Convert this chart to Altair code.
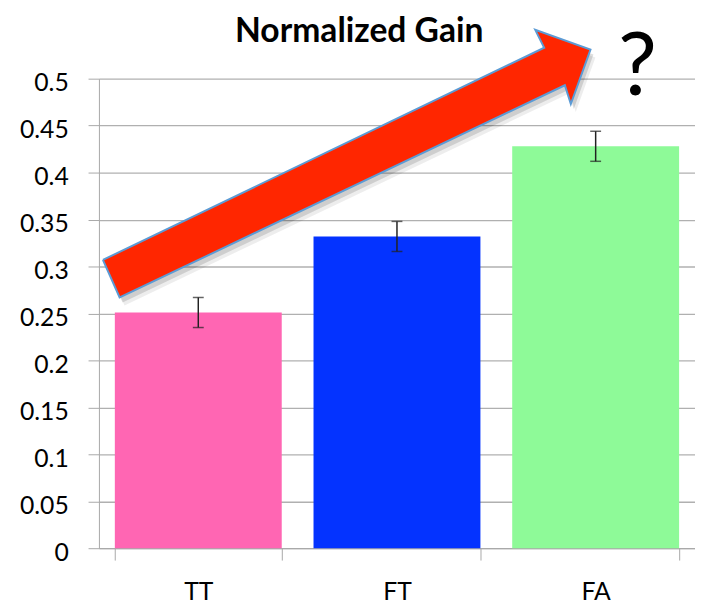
import altair as alt
import pandas as pd

categories = ["TT", "FT", "FA"]
values = [0.251, 0.332, 0.428]
errors = [0.016, 0.016, 0.016]
bar_colors = ["#FF66B3", "#0433FF", "#8EFA98"]
y_ticks = [0, 0.05, 0.1, 0.15, 0.2, 0.25, 0.3, 0.35, 0.4, 0.45, 0.5]

# arrow outline in chart units (x: category-band units 0..3, y: value units)
arrow_u = [0.020, 2.241, 2.196, 2.474, 2.375, 2.345, 0.104, 0.020]
arrow_y = [0.307, 0.533, 0.552, 0.531, 0.473, 0.493, 0.267, 0.307]
qmark_u = [2.71]
qmark_y = [0.483]
title_text = ["Normalized Gain"]
title_u = [1.31]
title_y = [0.539]

bars_df = pd.DataFrame({
    "cat": categories,
    "val": values,
    "lo": [v - e for v, e in zip(values, errors)],
    "hi": [v + e for v, e in zip(values, errors)],
    "color": bar_colors,
})
arrow_df = pd.DataFrame({"u": arrow_u, "y": arrow_y, "i": list(range(len(arrow_u)))})
q_df = pd.DataFrame({"u": qmark_u, "y": qmark_y, "t": ["?"]})
t_df = pd.DataFrame({"u": title_u, "y": title_y, "t": title_text})

yscale = alt.Scale(domain=[0, 0.5], nice=False, zero=True)
xband = alt.X("cat:N", sort=categories, title=None,
              scale=alt.Scale(paddingInner=0.16, paddingOuter=0.08),
              axis=alt.Axis(tickBand="extent", labelAngle=0, tickSize=12,
                            tickColor="#a8a8a8", domainColor="#a8a8a8",
                            labelPadding=20, labelFontSize=25, labelFont="Lato",
                            labelColor="#000"))

base = alt.Chart(bars_df)

bars = base.mark_bar().encode(
    x=xband,
    y=alt.Y("val:Q", scale=yscale, title=None,
            axis=alt.Axis(values=y_ticks, format=".2~f", grid=True,
                          gridColor="#b0b0b0", gridWidth=1.3,
                          tickColor="#a8a8a8", tickSize=11, domainColor="#a8a8a8",
                          labelFontSize=25, labelFont="Lato", labelColor="#000",
                          labelPadding=20, labelOffset=4)),
    color=alt.Color("color:N", scale=None),
)

err_rule = base.mark_rule(color="#222", strokeWidth=1.5).encode(
    x=alt.X("cat:N", sort=categories), y="lo:Q", y2="hi:Q")
cap_lo = base.mark_tick(color="#222", size=11, thickness=1.5, orient="horizontal").encode(
    x=alt.X("cat:N", sort=categories), y="lo:Q")
cap_hi = base.mark_tick(color="#222", size=11, thickness=1.5, orient="horizontal").encode(
    x=alt.X("cat:N", sort=categories), y="hi:Q")

inner = alt.layer(bars, err_rule, cap_lo, cap_hi)

xq = alt.X("u:Q", scale=alt.Scale(domain=[0, 3], nice=False, zero=False), axis=None)
ya = alt.Y("y:Q", scale=yscale)

arrow_base = alt.Chart(arrow_df)
shadow1 = arrow_base.mark_line(fill="#000", fillOpacity=0.07, strokeWidth=0,
                               xOffset=5, yOffset=8, clip=False).encode(
    x=xq, y=ya, order="i:Q")
shadow2 = arrow_base.mark_line(fill="#000", fillOpacity=0.13, strokeWidth=0,
                               xOffset=3, yOffset=5, clip=False).encode(
    x=xq, y=ya, order="i:Q")
arrow = arrow_base.mark_line(fill="#FF2600", stroke="#5B9BD5", strokeWidth=2,
                             strokeJoin="miter", clip=False).encode(
    x=xq, y=ya, order="i:Q")

qmark = alt.Chart(q_df).mark_text(fontSize=88, font="Lato", color="#000",
                                  align="center", baseline="alphabetic").encode(
    x=xq, y=ya, text="t:N")

title = alt.Chart(t_df).mark_text(fontSize=34, font="Lato", fontWeight="bold", color="#000",
                                  align="center", baseline="alphabetic").encode(
    x=xq, y=ya, text="t:N")

overlay = alt.layer(shadow1, shadow2, arrow, qmark, title)

chart = alt.layer(inner, overlay).resolve_scale(
    x="independent"
).properties(
    width=603, height=475,
    autosize=alt.AutoSizeParams(type="none"),
    padding={"left": 92, "top": 68, "right": 0, "bottom": 58},
).configure_view(stroke=None)

chart.save("out.html", embed_options={"renderer": "svg", "actions": False})
